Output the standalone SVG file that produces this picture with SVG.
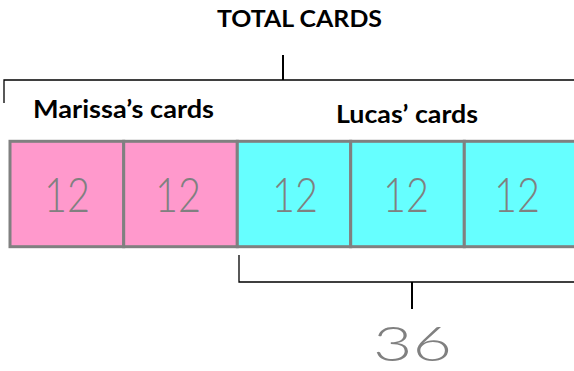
<svg xmlns="http://www.w3.org/2000/svg" width="574" height="371" viewBox="0 0 574 371">
  <style>
    .label { font-family: Lato, "Liberation Sans", Arial, sans-serif; font-weight: bold; fill: #000; }
    .box { stroke: #808080; stroke-width: 3; }
    .pink { fill: #FF99CC; }
    .cyan { fill: #66FFFF; }
    .hand { font-family: Lato, "Open Sans", "Liberation Sans", sans-serif; font-weight: 300; fill: #808080; text-anchor: middle; }
    .line { stroke: #000; stroke-width: 1.3; fill: none; }
    .tick { stroke: #000; stroke-width: 2; fill: none; }
  </style>
  <rect width="574" height="371" fill="#fff"/>

  <g id="title">
    <text class="label" x="217" y="27" font-size="23" textLength="165" lengthAdjust="spacingAndGlyphs">TOTAL CARDS</text>
  </g>
  <g id="marissa-label">
    <text class="label" x="33" y="118" font-size="24" textLength="181" lengthAdjust="spacingAndGlyphs">Marissa’s cards</text>
  </g>
  <g id="lucas-label">
    <text class="label" x="336" y="123" font-size="24" textLength="142" lengthAdjust="spacingAndGlyphs">Lucas’ cards</text>
  </g>

  <g id="box1">
    <rect class="box pink" x="10" y="141.3" width="113.7" height="105.4"/>
    <text class="hand" x="67" y="212" font-size="48" textLength="46" lengthAdjust="spacingAndGlyphs">12</text>
  </g>
  <g id="box2">
    <rect class="box pink" x="123.7" y="141.3" width="113.6" height="105.4"/>
    <text class="hand" x="178" y="212" font-size="48" textLength="46" lengthAdjust="spacingAndGlyphs">12</text>
  </g>
  <g id="box3">
    <rect class="box cyan" x="237.3" y="141.3" width="113.4" height="105.4"/>
    <text class="hand" x="295" y="212" font-size="48" textLength="46" lengthAdjust="spacingAndGlyphs">12</text>
  </g>
  <g id="box4">
    <rect class="box cyan" x="350.7" y="141.3" width="113.6" height="105.4"/>
    <text class="hand" x="406" y="212" font-size="48" textLength="46" lengthAdjust="spacingAndGlyphs">12</text>
  </g>
  <g id="box5">
    <rect class="box cyan" x="464.3" y="141.3" width="113.7" height="105.4"/>
    <text class="hand" x="517" y="212" font-size="48" textLength="46" lengthAdjust="spacingAndGlyphs">12</text>
  </g>

  <g id="result">
    <text class="hand" x="412.5" y="360.5" font-size="47" textLength="79" lengthAdjust="spacingAndGlyphs">36</text>
  </g>

  <g id="connectors">
    <path class="line" d="M4,103 V80 H574"/>
    <path class="tick" d="M283,55 V80"/>
    <path class="line" d="M239,255 V282 H574"/>
    <path class="tick" d="M412,282 V309"/>
  </g>
</svg>
